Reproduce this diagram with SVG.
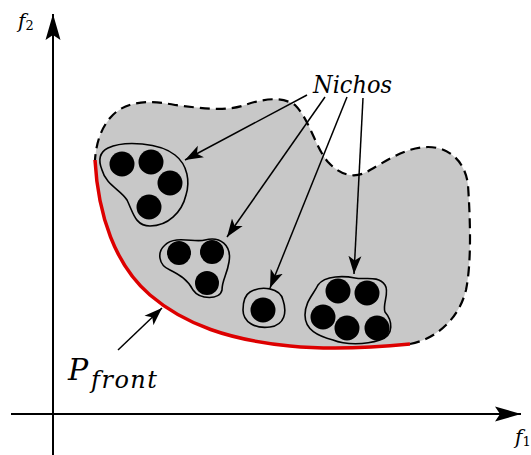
<svg xmlns="http://www.w3.org/2000/svg" width="531" height="455" viewBox="0 0 531 455">
<style>
.axis{stroke:#000;stroke-width:2;fill:none}
.arr{stroke:#000;stroke-width:1.5;fill:none}
.blob{fill:none;stroke:#000;stroke-width:1.6}
.dot{fill:#000}
.lbl{font-family:"DejaVu Serif","Liberation Serif",serif;font-style:italic;fill:#000}
</style>
<defs>
<marker id="ah" markerUnits="userSpaceOnUse" markerWidth="19" markerHeight="14" viewBox="0 -7 19 14" refX="18" refY="0" orient="auto">
<path d="M0,-6.5 L18,0 L0,6.5 L4.5,0 Z" fill="#000"/>
</marker>
<marker id="axh" markerUnits="userSpaceOnUse" markerWidth="27" markerHeight="17" viewBox="0 -8.5 27 17" refX="26" refY="0" orient="auto">
<path d="M0,-7.5 L26,0 L0,7.5 L5,0 Z" fill="#000"/>
</marker>
</defs>

<g id="axes">
<line class="axis" x1="53" y1="455" x2="53" y2="14" marker-end="url(#axh)"/>
<line class="axis" x1="11" y1="414" x2="521" y2="414" marker-end="url(#axh)"/>
</g>
<g id="axis-labels">
<text class="lbl" x="18" y="28" font-size="20">f<tspan font-size="13" font-style="normal" dy="2">2</tspan></text>
<text class="lbl" x="515" y="444" font-size="20">f<tspan font-size="13" font-style="normal" dy="2">1</tspan></text>
</g>

<g id="region">
<path d="M95,160 C98,215 115,265 150,295 C185,325 230,340 290,346 C330,350 370,348 410,344 C440,338 460,315 466,290 C472,260 470,215 468,185 C465,160 448,147 428,147 C405,147 385,162 370,170 C355,180 340,175 328,162 C315,147 310,120 295,105 C280,95 260,100 245,105 C225,112 200,108 175,105 C150,100 125,100 110,118 C100,130 96,145 95,160 Z" fill="#c8c8c8" stroke="none"/>
<path d="M410,344 C440,338 460,315 466,290 C472,260 470,215 468,185 C465,160 448,147 428,147 C405,147 385,162 370,170 C355,180 340,175 328,162 C315,147 310,120 295,105 C280,95 260,100 245,105 C225,112 200,108 175,105 C150,100 125,100 110,118 C100,130 96,145 95,160" fill="none" stroke="#000" stroke-width="2.2" stroke-dasharray="10,6"/>
<path id="pfront" d="M95,160 C98,215 115,265 150,295 C185,325 230,340 290,346 C330,350 370,348 410,344" fill="none" stroke="#dd0000" stroke-width="3.5"/>
</g>

<g id="cluster1">
<path class="blob" d="M108,148 C125,140 160,143 175,155 C188,165 190,182 186,195 C182,212 168,226 150,226 C135,226 133,212 127,200 C121,190 106,185 102,170 C98,160 100,152 108,148 Z"/>
<circle class="dot" cx="122" cy="164" r="12.5"/>
<circle class="dot" cx="151" cy="162" r="12.5"/>
<circle class="dot" cx="170" cy="183" r="12.5"/>
<circle class="dot" cx="149" cy="207" r="12.5"/>
</g>

<g id="cluster2">
<path class="blob" d="M165,245 C175,235 195,243 205,240 C220,236 232,245 229,262 C227,275 222,280 222,290 C220,300 200,300 193,290 C188,280 180,275 170,270 C158,265 157,252 165,245 Z"/>
<circle class="dot" cx="179" cy="253" r="12"/>
<circle class="dot" cx="212" cy="252" r="12"/>
<circle class="dot" cx="207" cy="283" r="12"/>
</g>

<g id="cluster3">
<path class="blob" d="M250,292 C262,285 280,288 283,300 C287,312 285,325 270,327 C255,329 243,322 243,310 C243,300 245,295 250,292 Z"/>
<circle class="dot" cx="263" cy="310" r="12.5"/>
</g>

<g id="cluster4">
<path class="blob" d="M318,285 C325,275 345,276 355,278 C365,280 378,275 385,285 C390,292 382,305 385,312 C392,320 395,335 380,340 C365,345 345,345 333,340 C318,336 305,330 305,315 C305,302 313,295 318,285 Z"/>
<circle class="dot" cx="338" cy="291" r="12.5"/>
<circle class="dot" cx="367" cy="293" r="12.5"/>
<circle class="dot" cx="323" cy="317" r="12.5"/>
<circle class="dot" cx="347" cy="328" r="12.5"/>
<circle class="dot" cx="377" cy="328" r="12.5"/>
</g>

<g id="labels">
<text class="lbl" x="313" y="93" font-size="24.5" textLength="79" lengthAdjust="spacingAndGlyphs">Nichos</text>
<text class="lbl" x="68" y="380" font-size="30">P</text>
<text class="lbl" x="91" y="388" font-size="24" textLength="66" lengthAdjust="spacing">front</text>
</g>

<g id="connectors">
<line class="arr" x1="307" y1="95" x2="185" y2="160" marker-end="url(#ah)"/>
<line class="arr" x1="325" y1="97" x2="227" y2="237" marker-end="url(#ah)"/>
<line class="arr" x1="347" y1="97" x2="270" y2="288" marker-end="url(#ah)"/>
<line class="arr" x1="363" y1="98" x2="354" y2="274" marker-end="url(#ah)"/>
<line class="arr" x1="118" y1="350" x2="162" y2="308" marker-end="url(#ah)"/>
</g>
</svg>
